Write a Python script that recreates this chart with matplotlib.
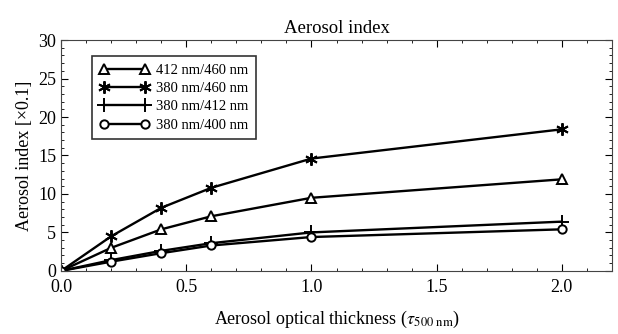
import numpy as np
import matplotlib.pyplot as plt
from matplotlib.ticker import MultipleLocator

plt.rcParams['font.family'] = ['Liberation Serif', 'DejaVu Serif']
plt.rcParams['mathtext.fontset'] = 'stix'

aot = [0.0, 0.2, 0.4, 0.6, 1.0, 2.0]
labels = ['412 nm/460 nm', '380 nm/460 nm', '380 nm/412 nm', '380 nm/400 nm']
ai_412_460 = [0.0, 3.0, 5.4, 7.1, 9.5, 11.9]
ai_380_460 = [0.0, 4.5, 8.2, 10.8, 14.6, 18.4]
ai_380_412 = [0.0, 1.4, 2.6, 3.6, 5.0, 6.4]
ai_380_400 = [0.0, 1.2, 2.3, 3.3, 4.4, 5.4]

series = [ai_412_460, ai_380_460, ai_380_412, ai_380_400]
markers = ['^', (6, 2, 0), '+', 'o']
sizes = [7, 9, 10, 6]

fig = plt.figure(figsize=(6.18, 3.34), dpi=100)
ax = fig.add_axes([0.099, 0.189, 0.891, 0.691])

for y, lab, m, s in zip(series, labels, markers, sizes):
    ax.plot(aot, y, color='black', lw=1.7, marker=m, ms=s,
            mfc='white', mec='black', mew=1.4, label=lab)

ax.set_xlim(0, 2.2)
ax.set_ylim(0, 30)
ax.xaxis.set_major_locator(MultipleLocator(0.5))
ax.xaxis.set_minor_locator(MultipleLocator(0.1))
ax.yaxis.set_major_locator(MultipleLocator(5))
ax.yaxis.set_minor_locator(MultipleLocator(1))
ax.xaxis.set_major_formatter(plt.FormatStrFormatter('%.1f'))
ax.tick_params(which='both', direction='in', top=True, right=True, labelsize=13)
ax.tick_params(which='major', length=5)
ax.tick_params(which='minor', length=2.5)
ax.tick_params(axis='x', pad=6)
for sp in ax.spines.values():
    sp.set_color('#444444')

ax.set_title('Aerosol index', fontsize=13.5, pad=5)
ax.set_xlabel(r'Aerosol optical thickness ($\tau_{500\ \mathrm{nm}}$)', fontsize=13, labelpad=9)
ax.set_ylabel('Aerosol index [×0.1]', fontsize=13, labelpad=4)

leg = ax.legend(loc='upper left', bbox_to_anchor=(0.056, 0.93), fontsize=10.5,
                frameon=True, fancybox=False, edgecolor='black', numpoints=2,
                handlelength=3.4, handletextpad=0.5, borderpad=0.5,
                labelspacing=0.35, borderaxespad=0)
leg.get_frame().set_linewidth(1.2)

fig.savefig('out.png', dpi=100)
